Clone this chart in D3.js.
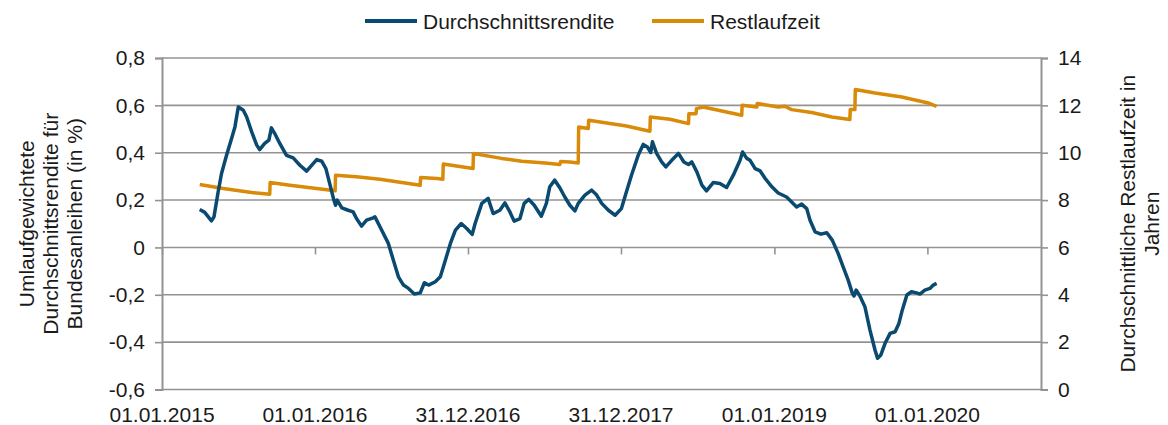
<!DOCTYPE html>
<html>
<head>
<meta charset="utf-8">
<script src="https://cdn.jsdelivr.net/npm/d3@7"></script>
<style>
  body { margin: 0; background: #fff; }
  text { font-family: Arial, "Liberation Sans", sans-serif; fill: #1a1a1a; }
</style>
</head>
<body>
<div id="chart"></div>
<script>
// Series names and colours
const seriesNames = ["Durchschnittsrendite", "Restlaufzeit"];
const seriesColors = ["#0a4a70", "#d98a08"];

// Umlaufgewichtete Durchschnittsrendite (in %), left axis
const renditeData = [
  ["2015-04-01", 0.16], ["2015-04-13", 0.148], ["2015-04-29", 0.112], ["2015-05-05", 0.129],
  ["2015-05-15", 0.235], ["2015-05-23", 0.312], ["2015-06-04", 0.389], ["2015-06-16", 0.46],
  ["2015-06-24", 0.509], ["2015-07-02", 0.593], ["2015-07-14", 0.579], ["2015-07-22", 0.551],
  ["2015-08-03", 0.488], ["2015-08-15", 0.432], ["2015-08-22", 0.413], ["2015-09-03", 0.439],
  ["2015-09-13", 0.453], ["2015-09-19", 0.505], ["2015-09-27", 0.481], ["2015-10-09", 0.439],
  ["2015-10-25", 0.389], ["2015-11-10", 0.378], ["2015-11-26", 0.347], ["2015-12-12", 0.322],
  ["2015-12-24", 0.347], ["2016-01-05", 0.371], ["2016-01-17", 0.364], ["2016-01-27", 0.333],
  ["2016-02-06", 0.263], ["2016-02-15", 0.2], ["2016-02-19", 0.178], ["2016-02-23", 0.2],
  ["2016-03-05", 0.167], ["2016-03-20", 0.157], ["2016-04-01", 0.15], ["2016-04-09", 0.122],
  ["2016-04-21", 0.09], ["2016-05-03", 0.115], ["2016-05-19", 0.125], ["2016-05-23", 0.129],
  ["2016-06-04", 0.087], ["2016-06-24", 0.017], ["2016-07-06", -0.054], ["2016-07-18", -0.124],
  ["2016-07-30", -0.159], ["2016-08-11", -0.173], ["2016-08-25", -0.197], ["2016-09-08", -0.192],
  ["2016-09-18", -0.149], ["2016-09-28", -0.159], ["2016-10-14", -0.145], ["2016-10-26", -0.124],
  ["2016-11-07", -0.054], ["2016-11-19", 0.017], ["2016-12-01", 0.073], ["2016-12-15", 0.101],
  ["2016-12-28", 0.08], ["2017-01-10", 0.055], ["2017-01-17", 0.101], ["2017-02-02", 0.186],
  ["2017-02-17", 0.207], ["2017-03-01", 0.143], ["2017-03-17", 0.157], ["2017-03-29", 0.188],
  ["2017-04-10", 0.15], ["2017-04-20", 0.111], ["2017-05-04", 0.122], ["2017-05-14", 0.186],
  ["2017-05-25", 0.203], ["2017-06-07", 0.178], ["2017-06-24", 0.132], ["2017-07-06", 0.186],
  ["2017-07-14", 0.256], ["2017-07-26", 0.284], ["2017-08-07", 0.252], ["2017-08-19", 0.213],
  ["2017-08-31", 0.178], ["2017-09-12", 0.154], ["2017-09-20", 0.186], ["2017-10-06", 0.221],
  ["2017-10-22", 0.242], ["2017-11-03", 0.221], ["2017-11-15", 0.186], ["2017-12-01", 0.157],
  ["2017-12-17", 0.136], ["2018-01-01", 0.164], ["2018-01-13", 0.235], ["2018-01-25", 0.305],
  ["2018-02-10", 0.389], ["2018-02-22", 0.435], ["2018-03-04", 0.424], ["2018-03-12", 0.401],
  ["2018-03-16", 0.446], ["2018-03-26", 0.397], ["2018-04-07", 0.361], ["2018-04-17", 0.34],
  ["2018-05-01", 0.368], ["2018-05-17", 0.397], ["2018-05-30", 0.361], ["2018-06-10", 0.35],
  ["2018-06-18", 0.361], ["2018-06-30", 0.319], ["2018-07-12", 0.263], ["2018-07-23", 0.239],
  ["2018-08-08", 0.274], ["2018-08-24", 0.27], ["2018-09-09", 0.253], ["2018-09-25", 0.305],
  ["2018-10-11", 0.368], ["2018-10-17", 0.403], ["2018-10-27", 0.376], ["2018-11-04", 0.368],
  ["2018-11-16", 0.333], ["2018-11-28", 0.323], ["2018-12-10", 0.291], ["2018-12-26", 0.256],
  ["2019-01-10", 0.23], ["2019-01-30", 0.213], ["2019-02-11", 0.192], ["2019-02-23", 0.171],
  ["2019-03-07", 0.183], ["2019-03-19", 0.164], ["2019-03-27", 0.115], ["2019-04-08", 0.066],
  ["2019-04-22", 0.056], ["2019-05-06", 0.062], ["2019-05-19", 0.031], ["2019-06-02", -0.025],
  ["2019-06-14", -0.082], ["2019-06-26", -0.138], ["2019-07-06", -0.194], ["2019-07-10", -0.205],
  ["2019-07-15", -0.18], ["2019-07-24", -0.205], ["2019-08-05", -0.251], ["2019-08-17", -0.349],
  ["2019-08-29", -0.433], ["2019-09-04", -0.468], ["2019-09-12", -0.454], ["2019-09-22", -0.405],
  ["2019-10-04", -0.363], ["2019-10-16", -0.356], ["2019-10-25", -0.321], ["2019-11-02", -0.265],
  ["2019-11-13", -0.201], ["2019-11-24", -0.187], ["2019-12-06", -0.192], ["2019-12-14", -0.197],
  ["2019-12-26", -0.18], ["2020-01-07", -0.173], ["2020-01-15", -0.159], ["2020-01-23", -0.152]
];

// Durchschnittliche Restlaufzeit in Jahren, right axis
const restlaufzeitData = [
  ["2015-04-01", 8.66], ["2015-05-27", 8.49], ["2015-08-03", 8.32], ["2015-09-15", 8.25],
  ["2015-09-16", 8.74], ["2015-11-02", 8.63], ["2016-02-18", 8.39], ["2016-02-19", 9.05],
  ["2016-04-09", 8.98], ["2016-06-04", 8.88], ["2016-09-08", 8.63], ["2016-09-09", 8.95],
  ["2016-10-18", 8.91], ["2016-11-01", 8.88], ["2016-11-02", 9.52], ["2017-01-12", 9.33],
  ["2017-01-13", 9.97], ["2017-03-21", 9.76], ["2017-05-08", 9.64], ["2017-07-03", 9.57],
  ["2017-08-07", 9.5], ["2017-08-09", 9.63], ["2017-08-31", 9.61], ["2017-09-20", 9.57],
  ["2017-09-21", 11.09], ["2017-10-14", 11.02], ["2017-10-15", 11.37], ["2018-01-13", 11.13],
  ["2018-03-10", 10.91], ["2018-03-11", 11.51], ["2018-04-27", 11.41], ["2018-06-10", 11.23],
  ["2018-06-11", 11.65], ["2018-06-28", 11.65], ["2018-06-29", 11.86], ["2018-07-15", 11.93],
  ["2018-10-15", 11.58], ["2018-10-16", 12.0], ["2018-11-20", 11.93], ["2018-11-21", 12.08],
  ["2019-01-10", 11.93], ["2019-01-26", 11.96], ["2019-02-11", 11.82], ["2019-03-31", 11.7],
  ["2019-05-18", 11.51], ["2019-06-30", 11.4], ["2019-07-01", 11.82], ["2019-07-12", 11.82],
  ["2019-07-13", 12.67], ["2019-08-29", 12.52], ["2019-11-01", 12.35], ["2020-01-03", 12.1],
  ["2020-01-23", 11.96]
];

// Axis ticks
const xTickDates = ["2015-01-01", "2016-01-01", "2016-12-31", "2017-12-31", "2019-01-01", "2020-01-01"];
const xTickLabels = ["01.01.2015", "01.01.2016", "31.12.2016", "31.12.2017", "01.01.2019", "01.01.2020"];
const xDomain = ["2015-01-01", "2020-09-28"];
const leftTicks = [-0.6, -0.4, -0.2, 0, 0.2, 0.4, 0.6, 0.8];
const rightTicks = [0, 2, 4, 6, 8, 10, 12, 14];
const leftTitle = ["Umlaufgewichtete", "Durchschnittsrendite für", "Bundesanleihen (in %)"];
const rightTitle = ["Durchschnittliche Restlaufzeit in", "Jahren"];

const WIDTH = 1168, HEIGHT = 425;
const MARGIN = { left: 162, right: 127, top: 58, bottom: 35.5 };
const CHART_WIDTH = WIDTH - MARGIN.left - MARGIN.right;
const CHART_HEIGHT = HEIGHT - MARGIN.top - MARGIN.bottom;
const GRID = "#939393";

const parse = d3.timeParse("%Y-%m-%d");
const locale = d3.formatLocale({ decimal: ",", thousands: ".", grouping: [3], currency: ["", "€"], minus: "-" });
const fmt1 = locale.format(".1f");

const svg = d3.select("#chart").append("svg")
    .attr("width", WIDTH)
    .attr("height", HEIGHT);

const g = svg.append("g")
    .attr("transform", `translate(${MARGIN.left}, ${MARGIN.top})`);

const xScale = d3.scaleTime()
    .domain(xDomain.map(parse))
    .range([0, CHART_WIDTH]);

const yLeft = d3.scaleLinear()
    .domain([-0.6, 0.8])
    .range([CHART_HEIGHT, 0]);

const yRight = d3.scaleLinear()
    .domain([0, 14])
    .range([CHART_HEIGHT, 0]);

// Gridlines
g.append("g").selectAll("line")
    .data(leftTicks)
    .join("line")
    .attr("x1", 0).attr("x2", CHART_WIDTH)
    .attr("y1", d => yLeft(d)).attr("y2", d => yLeft(d))
    .attr("stroke", GRID)
    .attr("stroke-width", 1.6);

// Left axis
const leftAxis = g.append("g")
    .call(d3.axisLeft(yLeft).tickValues(leftTicks).tickSize(7).tickPadding(10)
        .tickFormat(d => d === 0 ? "0" : fmt1(d)));
leftAxis.select(".domain").attr("stroke", GRID).attr("stroke-width", 2);
leftAxis.selectAll(".tick line").attr("stroke", GRID).attr("stroke-width", 1.6);
leftAxis.selectAll(".tick text").attr("font-size", 21).style("font-family", "Arial, 'Liberation Sans', sans-serif");

// Right axis
const rightAxis = g.append("g")
    .attr("transform", `translate(${CHART_WIDTH}, 0)`)
    .call(d3.axisRight(yRight).tickValues(rightTicks).tickSize(7).tickPadding(10));
rightAxis.select(".domain").attr("stroke", GRID).attr("stroke-width", 2);
rightAxis.selectAll(".tick line").attr("stroke", GRID).attr("stroke-width", 1.6);
rightAxis.selectAll(".tick text").attr("font-size", 21).style("font-family", "Arial, 'Liberation Sans', sans-serif");

// X axis: tick marks on the zero line, labels at the bottom
const xAxis = g.append("g")
    .attr("transform", `translate(0, ${yLeft(0)})`)
    .call(d3.axisBottom(xScale).tickValues(xTickDates.map(parse)).tickSize(7).tickFormat(""));
xAxis.select(".domain").remove();
xAxis.selectAll(".tick line").attr("stroke", GRID).attr("stroke-width", 1.6);

g.append("g").selectAll("text")
    .data(xTickDates)
    .join("text")
    .attr("x", d => xScale(parse(d)))
    .attr("y", CHART_HEIGHT + 32)
    .attr("text-anchor", "middle")
    .attr("font-size", 21)
    .text((d, i) => xTickLabels[i]);

// Series lines
const lineLeft = d3.line()
    .x(d => xScale(parse(d[0])))
    .y(d => yLeft(d[1]));

const lineRight = d3.line()
    .x(d => xScale(parse(d[0])))
    .y(d => yRight(d[1]));

g.append("path")
    .datum(restlaufzeitData)
    .attr("fill", "none")
    .attr("stroke", seriesColors[1])
    .attr("stroke-width", 3.5)
    .attr("stroke-linejoin", "round")
    .attr("d", lineRight);

g.append("path")
    .datum(renditeData)
    .attr("fill", "none")
    .attr("stroke", seriesColors[0])
    .attr("stroke-width", 3.5)
    .attr("stroke-linejoin", "round")
    .attr("d", lineLeft);

// Axis titles
const leftT = svg.append("text")
    .attr("transform", `translate(34, ${MARGIN.top + CHART_HEIGHT / 2}) rotate(-90)`)
    .attr("text-anchor", "middle")
    .attr("font-size", 21);
leftT.selectAll("tspan")
    .data(leftTitle)
    .join("tspan")
    .attr("x", 0)
    .attr("dy", (d, i) => i === 0 ? 0 : 24)
    .text(d => d);

const rightT = svg.append("text")
    .attr("transform", `translate(1135, ${MARGIN.top + CHART_HEIGHT / 2}) rotate(-90)`)
    .attr("text-anchor", "middle")
    .attr("font-size", 21);
rightT.selectAll("tspan")
    .data(rightTitle)
    .join("tspan")
    .attr("x", 0)
    .attr("dy", (d, i) => i === 0 ? 0 : 24)
    .text(d => d);

// Legend
const legendX = [365, 652];
const legend = svg.append("g").selectAll("g")
    .data(seriesNames)
    .join("g")
    .attr("transform", (d, i) => `translate(${legendX[i]}, 21)`);
legend.append("line")
    .attr("x1", 0).attr("x2", 52)
    .attr("stroke", (d, i) => seriesColors[i])
    .attr("stroke-width", 4);
legend.append("text")
    .attr("x", 58)
    .attr("y", 7.5)
    .attr("font-size", 21)
    .text(d => d);
</script>
</body>
</html>
